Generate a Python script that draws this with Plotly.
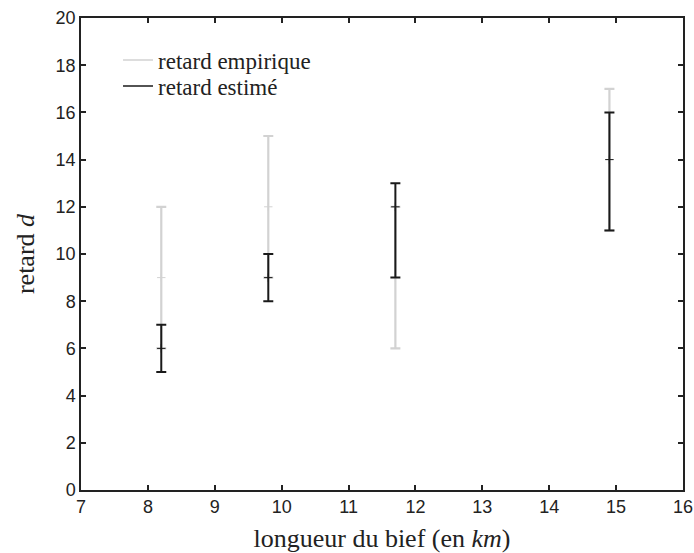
import plotly.graph_objects as go

# Data
x_pos = [8.2, 9.8, 11.7, 14.9]
emp_center = [9, 12, 9, 14]
emp_low = [6, 9, 6, 11]
emp_high = [12, 15, 12, 17]
est_center = [6, 9, 12, 14]
est_low = [5, 8, 9, 11]
est_high = [7, 10, 13, 16]

x_ticks = list(range(7, 17))
y_ticks = list(range(0, 21, 2))

GRAY = "#d2d2d2"
BLACK = "#1a1a1a"
SERIF = "Liberation Serif, Times New Roman, serif"
SANS = "Liberation Sans, Arial, sans-serif"

fig = go.Figure()

def add_series(center, low, high, color, name, width, legend_id):
    fig.add_trace(go.Scatter(
        x=x_pos, y=center, mode="markers", showlegend=False,
        marker=dict(symbol="cross-thin", size=6, line=dict(color=color, width=1), color=color),
        error_y=dict(type="data", symmetric=False,
                     array=[h - c for h, c in zip(high, center)],
                     arrayminus=[c - l for c, l in zip(center, low)],
                     color=color, thickness=width, width=5),
        hoverinfo="skip",
    ))
    fig.add_trace(go.Scatter(
        x=[None], y=[None], mode="lines", name=name, legend=legend_id,
        line=dict(color=color, width=1.5),
    ))

add_series(emp_center, emp_low, emp_high, GRAY, "retard empirique", 2.2, "legend")
add_series(est_center, est_low, est_high, BLACK, "retard estimé", 2, "legend2")

axis_common = dict(
    showline=True, linecolor="#222", linewidth=1.5, mirror="ticks",
    ticks="inside", ticklen=5, tickwidth=1.5, tickcolor="#222",
    showgrid=False, zeroline=False, automargin=False,
    tickfont=dict(family=SANS, size=18, color="#222"),
)

fig.update_xaxes(range=[7, 16], tickvals=x_ticks, ticktext=[str(v) for v in x_ticks],
                 title=dict(text="longueur du bief (en <i>km</i>)",
                            font=dict(family=SERIF, size=26, color="#222"),
                            standoff=12),
                 **axis_common)
fig.update_yaxes(range=[0, 20], tickvals=y_ticks, ticktext=[str(v) for v in y_ticks],
                 title=dict(text="retard <i>d</i>",
                            font=dict(family=SERIF, size=26, color="#222"),
                            standoff=14),
                 **axis_common)

legend_style = dict(xanchor="left", yanchor="middle", bgcolor="rgba(0,0,0,0)",
                    font=dict(family=SERIF, size=23, color="#222"),
                    tracegroupgap=0, itemwidth=30)

fig.update_layout(
    width=694, height=553,
    margin=dict(l=81, r=11, t=18, b=63),
    paper_bgcolor="white", plot_bgcolor="white",
    legend=dict(x=0.0615, y=0.911, **legend_style),
    legend2=dict(x=0.0615, y=0.856, **legend_style),
)

# remove the default 8px page margin so the figure fills the 694x553 window exactly
fig.write_html("out.html", config={"displayModeBar": False},
               post_script="document.body.style.margin='0';")
